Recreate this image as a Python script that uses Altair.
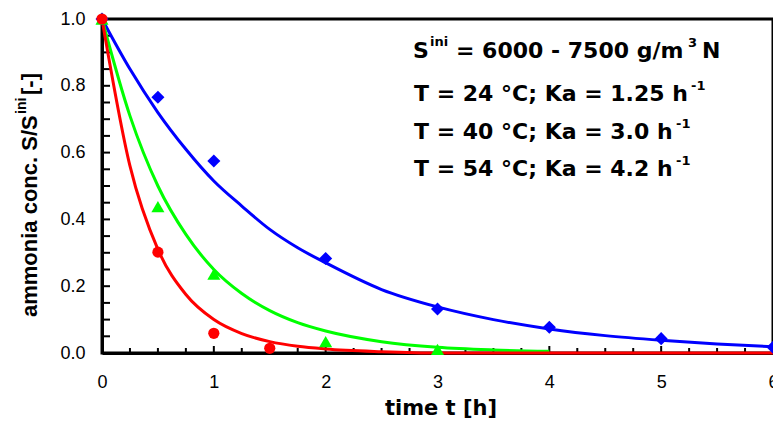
import altair as alt
import pandas as pd

# ---- measured points (time in h, relative concentration S/S_ini) ----
blue_t = [0, 0.5, 1, 2, 3, 4, 5, 6]
blue_v = [1.0, 0.766, 0.575, 0.283, 0.132, 0.077, 0.043, 0.017]
green_t = [0, 0.5, 1, 2, 3]
green_v = [1.0, 0.438, 0.236, 0.034, 0.011]
red_t = [0, 0.5, 1, 1.5]
red_v = [1.0, 0.302, 0.059, 0.014]

# ---- fitted curves ----
blue_curve_t = [0, 0.25, 0.5, 0.75, 1, 1.25, 1.5, 1.75, 2, 2.5, 3, 3.5, 4, 4.5, 5, 5.5, 6]
blue_curve_v = [1.0, 0.85, 0.72, 0.61, 0.515, 0.44, 0.37, 0.315, 0.27, 0.19, 0.138, 0.10, 0.072, 0.052, 0.038, 0.027, 0.019]
green_curve_t = [0, 0.25, 0.5, 0.75, 1, 1.25, 1.5, 1.75, 2, 2.5, 3, 3.5, 4]
green_curve_v = [1.0, 0.71, 0.50, 0.355, 0.25, 0.178, 0.127, 0.091, 0.066, 0.034, 0.017, 0.009, 0.005]
red_curve_t = [0, 0.25, 0.5, 0.75, 1, 1.25, 1.5, 1.75, 2, 2.5, 3, 3.5, 4, 4.5, 5, 5.5, 6]
red_curve_v = [1.0, 0.56, 0.31, 0.175, 0.10, 0.058, 0.034, 0.02, 0.012, 0.004, 0.0, 0.0, 0.0, 0.0, 0.0, 0.0, 0.0]

# ---- axes ----
x_labels = [0, 1, 2, 3, 4, 5, 6]
y_labels = [0.0, 0.2, 0.4, 0.6, 0.8, 1.0]
x_minor_ticks = [0.25, 0.5, 0.75, 1.25, 1.5, 1.75, 2.25, 2.5, 2.75, 3.25, 3.5, 3.75,
                 4.25, 4.5, 4.75, 5.25, 5.5, 5.75]
x_major_ticks = [1, 2, 3, 4, 5]
y_ticks = [0.05, 0.1, 0.15, 0.2, 0.25, 0.3, 0.35, 0.4, 0.45, 0.5, 0.55, 0.6,
           0.65, 0.7, 0.75, 0.8, 0.85, 0.9, 0.95]

BLUE, GREEN, RED = "#0000ff", "#00ff00", "#ff0000"
W, H = 671, 334
OX = 102  # page x of the plot's left edge (for annotation placement)

xscale = alt.Scale(domain=[0, 6], nice=False, zero=False)
yscale = alt.Scale(domain=[0, 1], nice=False, zero=False)
xaxis = alt.Axis(values=x_labels, format="d", ticks=False, grid=False, title=None,
                 labelPadding=20, labelFlush=False, domainWidth=3, domainColor="black",
                 labelFont="Liberation Sans", labelFontSize=18, labelColor="black")
yaxis = alt.Axis(values=y_labels, format=".1f", ticks=False, grid=False, title=None,
                 labelPadding=17, labelFlush=False, domainWidth=3, domainColor="black",
                 labelFont="Liberation Sans", labelFontSize=18, labelColor="black")


def X(field):
    return alt.X(field, type="quantitative", scale=xscale, axis=xaxis)


def Y(field):
    return alt.Y(field, type="quantitative", scale=yscale, axis=yaxis)


def curve(ts, vs, color):
    df = pd.DataFrame({"t": ts, "v": vs})
    return alt.Chart(df).mark_line(color=color, strokeWidth=3, interpolate="monotone",
                                   clip=False).encode(x=X("t"), y=Y("v"))


def points(ts, vs, color, shape, size):
    df = pd.DataFrame({"t": ts, "v": vs})
    return alt.Chart(df).mark_point(color=color, fill=color, filled=True, opacity=1,
                                    shape=shape, size=size, strokeWidth=0).encode(
        x=X("t"), y=Y("v"))


def txt(s, px, y, size, font="DejaVu Sans", weight="bold", angle=0, align="left"):
    # px is given in page pixels, converted to plot coordinates
    return alt.Chart(pd.DataFrame({"k": [0]})).mark_text(
        font=font, fontSize=size, fontWeight=weight, color="black", align=align,
        baseline="alphabetic", angle=angle).encode(
        x=alt.value(px - OX), y=alt.value(y), text=alt.value(s))


xminor = alt.Chart(pd.DataFrame({"t": x_minor_ticks})).mark_rule(
    color="black", strokeWidth=2).encode(x=X("t"), y=alt.value(H), y2=alt.value(H - 5))
xmajor = alt.Chart(pd.DataFrame({"t": x_major_ticks})).mark_rule(
    color="black", strokeWidth=2).encode(x=X("t"), y=alt.value(H), y2=alt.value(H - 7))
yminor = alt.Chart(pd.DataFrame({"v": y_ticks})).mark_rule(
    color="black", strokeWidth=2).encode(y=Y("v"), x=alt.value(0), x2=alt.value(8))

layers = [
    xminor, xmajor, yminor,
    curve(blue_curve_t, blue_curve_v, BLUE),
    curve(green_curve_t, green_curve_v, GREEN),
    curve(red_curve_t, red_curve_v, RED),
    points(blue_t, blue_v, BLUE, "diamond", 170),
    points(green_t, green_v, GREEN, "triangle-up", 170),
    points(red_t, red_v, RED, "circle", 125),
    # annotation block
    txt("S", 413, 39, 22),
    txt("ini", 430, 27, 13),
    txt("= 6000 - 7500 g/m", 456, 39, 22),
    txt("3", 688, 28, 13),
    txt("N", 702, 39, 22),
    txt("T = 24 °C; Ka = 1.25 h", 414, 82, 22),
    txt("-1", 691, 71, 13),
    txt("T = 40 °C; Ka = 3.0 h", 414, 120, 22),
    txt("-1", 676, 109, 13),
    txt("T = 54 °C; Ka = 4.2 h", 414, 157, 22),
    txt("-1", 676, 146, 13),
    # axis titles
    txt("time t [h]", 441, 396, 21, align="center"),
    txt("ammonia conc. S/S", 37, 298, 22, font="Liberation Sans", angle=270),
    txt("ini", 26, 95, 14, font="Liberation Sans", angle=270),
    txt("[-]", 37, 76, 22, font="Liberation Sans", angle=270),
]

chart = alt.layer(*layers).properties(
    width=W, height=H,
    autosize=alt.AutoSizeParams(type="none"),
    padding={"left": OX - 8, "top": 11, "right": 0, "bottom": 67},
).configure_view(stroke="black", strokeWidth=3)

chart.save("out.html", embed_options={"renderer": "svg", "actions": False})
